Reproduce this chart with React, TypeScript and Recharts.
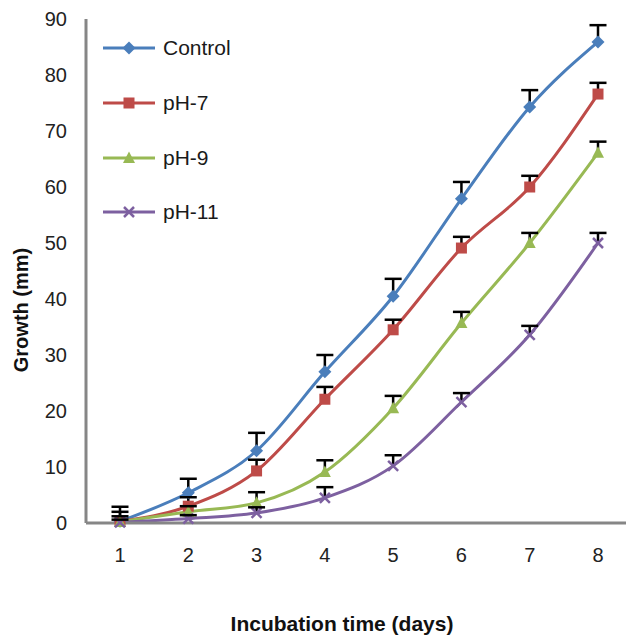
import React from 'react';
import { LineChart, Line, XAxis, YAxis, ErrorBar, Label } from 'recharts';

// incubation days (x categories)
const days = ['1', '2', '3', '4', '5', '6', '7', '8'];

// growth in mm
const controlGrowth = [0.3, 5.4, 12.9, 27.0, 40.5, 57.9, 74.3, 85.9];
const ph7Growth = [0.3, 3.0, 9.3, 22.1, 34.5, 49.1, 60.0, 76.6];
const ph9Growth = [0.2, 2.0, 3.6, 9.1, 20.5, 35.7, 50.0, 66.1];
const ph11Growth = [0.1, 0.8, 1.8, 4.5, 10.2, 21.6, 33.6, 50.0];

// upper error (mm)
const controlErr = [2.6, 2.5, 3.2, 3.0, 3.1, 3.0, 3.0, 3.0];
const ph7Err = [1.7, 1.6, 2.0, 2.2, 1.8, 2.0, 2.0, 2.0];
const ph9Err = [1.0, 1.0, 1.9, 2.1, 2.2, 2.0, 1.8, 2.0];
const ph11Err = [0.5, 0.6, 1.0, 1.9, 1.9, 1.6, 1.6, 1.8];

const yTicks = [0, 10, 20, 30, 40, 50, 60, 70, 80, 90];

type Shape = 'diamond' | 'square' | 'triangle' | 'cross';

const series: { key: string; name: string; color: string; shape: Shape; values: number[]; errs: number[] }[] = [
  { key: 'control', name: 'Control', color: '#4a7ebb', shape: 'diamond', values: controlGrowth, errs: controlErr },
  { key: 'ph7', name: 'pH-7', color: '#be4b48', shape: 'square', values: ph7Growth, errs: ph7Err },
  { key: 'ph9', name: 'pH-9', color: '#98b954', shape: 'triangle', values: ph9Growth, errs: ph9Err },
  { key: 'ph11', name: 'pH-11', color: '#7d60a0', shape: 'cross', values: ph11Growth, errs: ph11Err },
];

const data = days.map((day, i) => {
  const row: Record<string, string | number> = { day };
  series.forEach((s) => {
    row[s.key] = s.values[i];
    row[`${s.key}Err`] = s.errs[i];
    row[`${s.key}Top`] = s.values[i] + s.errs[i];
  });
  return row;
});

const FONT = '"Liberation Sans", Arial, sans-serif';
const AXIS_GRAY = '#868686';

const Marker = ({ shape, cx, cy, color }: { shape: Shape; cx: number; cy: number; color: string }) => {
  if (shape === 'diamond') {
    return <polygon points={`${cx},${cy - 6.5} ${cx + 6.5},${cy} ${cx},${cy + 6.5} ${cx - 6.5},${cy}`} fill={color} />;
  }
  if (shape === 'square') {
    return <rect x={cx - 5.5} y={cy - 5.5} width={11} height={11} fill={color} />;
  }
  if (shape === 'triangle') {
    return <polygon points={`${cx},${cy - 6.5} ${cx + 6},${cy + 5} ${cx - 6},${cy + 5}`} fill={color} />;
  }
  return (
    <g stroke={color} strokeWidth={2.5}>
      <line x1={cx - 5} y1={cy - 5} x2={cx + 5} y2={cy + 5} />
      <line x1={cx - 5} y1={cy + 5} x2={cx + 5} y2={cy - 5} />
    </g>
  );
};

const LegendBox = () => (
  <div style={{ position: 'absolute', left: 103, top: 21, fontFamily: FONT }}>
    {series.map((s) => (
      <div key={s.key} style={{ display: 'flex', alignItems: 'center', height: 54.7 }}>
        <svg width={52} height={20} style={{ display: 'block' }}>
          <line x1={0} y1={10} x2={52} y2={10} stroke={s.color} strokeWidth={3} />
          <Marker shape={s.shape} cx={26} cy={10} color={s.color} />
        </svg>
        <span style={{ fontSize: 21, color: '#1a1a1a', marginLeft: 8 }}>{s.name}</span>
      </div>
    ))}
  </div>
);

export default function App() {
  return (
    <div style={{ position: 'absolute', left: 0, top: 0, width: 626, height: 636, overflow: 'hidden', background: '#fff', fontFamily: FONT }}>
      <LineChart width={640} height={636} data={data} margin={{ top: 19, right: 8, bottom: 0, left: 0 }}>
        <XAxis
          dataKey="day"
          height={113}
          padding={{ left: 34, right: 34 }}
          tickLine={false}
          tickSize={0}
          tickMargin={25}
          axisLine={{ stroke: AXIS_GRAY, strokeWidth: 3 }}
          tick={{ fill: '#222', fontSize: 20 }}
        >
          <Label
            content={() => (
              <text x={342} y={623} textAnchor="middle" dominantBaseline="central" fontWeight="bold" fontSize={21} fill="#111">
                Incubation time (days)
              </text>
            )}
          />
        </XAxis>
        <YAxis
          width={86}
          domain={[0, 90]}
          ticks={yTicks}
          interval={0}
          tickLine={false}
          tickSize={0}
          tickMargin={19}
          axisLine={{ stroke: AXIS_GRAY, strokeWidth: 3 }}
          tick={{ fill: '#222', fontSize: 20 }}
        >
          <Label
            content={() => (
              <text
                x={21}
                y={310}
                transform="rotate(-90, 21, 310)"
                textAnchor="middle"
                dominantBaseline="central"
                fontWeight="bold"
                fontSize={20}
                fill="#111"
              >
                Growth (mm)
              </text>
            )}
          />
        </YAxis>
        {series.map((s) => (
          <Line
            key={s.key}
            type="monotone"
            dataKey={s.key}
            name={s.name}
            stroke={s.color}
            strokeWidth={3}
            isAnimationActive={false}
            dot={(p: any) => <Marker key={`${s.key}-dot-${p.index}`} shape={s.shape} cx={p.cx} cy={p.cy} color={s.color} />}
            activeDot={false}
          />
        ))}
        {series.map((s) => (
          <Line
            key={`${s.key}-err`}
            dataKey={`${s.key}Top`}
            stroke="none"
            legendType="none"
            isAnimationActive={false}
            activeDot={false}
            dot={(p: any) => (
              <line
                key={`${s.key}-cap-${p.index}`}
                x1={p.cx - 8.5}
                x2={p.cx + 8.5}
                y1={p.cy}
                y2={p.cy}
                stroke="#000"
                strokeWidth={2.5}
              />
            )}
          >
            <ErrorBar
              dataKey={(d: any) => [d[`${s.key}Err`], 0]}
              direction="y"
              width={0}
              stroke="#000"
              strokeWidth={2.5}
              isAnimationActive={false}
            />
          </Line>
        ))}
      </LineChart>
      <LegendBox />
    </div>
  );
}
